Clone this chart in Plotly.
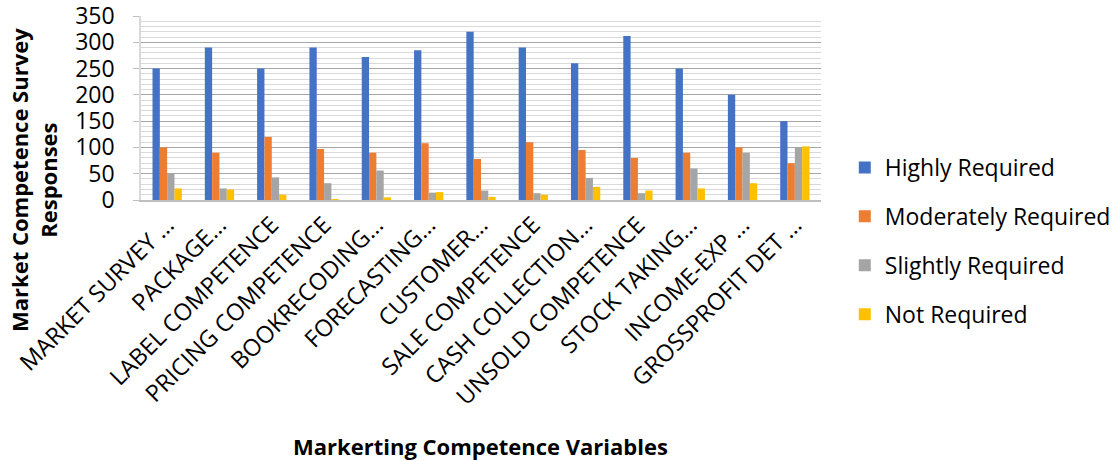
import plotly.graph_objects as go

# Competence variables (x-axis categories)
categories = [
    "MARKET SURVEY …", "PACKAGE…", "LABEL COMPETENCE", "PRICING COMPETENCE",
    "BOOKRECODING…", "FORECASTING…", "CUSTOMER…", "SALE COMPETENCE",
    "CASH COLLECTION…", "UNSOLD COMPETENCE", "STOCK TAKING…", "INCOME-EXP …",
    "GROSSPROFIT DET …",
]

# Survey responses per requirement level
highly_required = [250, 290, 250, 290, 272, 285, 320, 290, 260, 312, 250, 200, 150]
moderately_required = [100, 90, 120, 97, 90, 108, 78, 110, 95, 80, 90, 100, 70]
slightly_required = [50, 22, 43, 32, 56, 14, 18, 13, 42, 13, 60, 90, 100]
not_required = [22, 20, 10, 1, 5, 15, 6, 10, 25, 18, 22, 32, 102]

y_ticks = [0, 50, 100, 150, 200, 250, 300, 350]

series = [
    ("Highly Required", highly_required, "#4472C4"),
    ("Moderately Required", moderately_required, "#ED7D31"),
    ("Slightly Required", slightly_required, "#A5A5A5"),
    ("Not Required", not_required, "#FFC000"),
]

FONT = "Open Sans"
W, H = 1118, 461
L, R, T, B = 141, 297, 16, 261

fig = go.Figure()
for i, (name, vals, color) in enumerate(series):
    fig.add_trace(go.Bar(
        x=categories, y=vals, name=name,
        marker=dict(color=color, line=dict(width=0)),
        legendgroup=f"g{i}",
    ))

plot_w = W - L - R
plot_h = H - T - B

fig.update_layout(
    width=W, height=H,
    margin=dict(l=L, r=R, t=T, b=B, autoexpand=False),
    paper_bgcolor="white", plot_bgcolor="white",
    barmode="group", bargap=0.44, bargroupgap=0,
    font=dict(family=FONT, color="#000000"),
    showlegend=True,
    legend=dict(
        x=1.035, xanchor="left",
        y=(H - B - 146) / plot_h, yanchor="top",
        font=dict(family=FONT, size=23, color="#000000"),
        tracegroupgap=16, itemwidth=30, maxheight=320,
    ),
    xaxis=dict(
        tickangle=-45, tickfont=dict(family=FONT, size=23.5, color="#000000"),
        showline=True, linecolor="#BFBFBF", linewidth=1.5,
        ticks="", showgrid=False,
    ),
    yaxis=dict(
        range=[0, 350], tickmode="array", tickvals=y_ticks,
        tickfont=dict(family=FONT, size=23, color="#000000"),
        ticklabeloverflow="allow",
        showgrid=True, gridcolor="#A6A6A6", gridwidth=1.3,
        minor=dict(tickmode="linear", tick0=0, dtick=10, showgrid=True,
                   gridcolor="#D9D9D9", gridwidth=1.3),
        showline=True, linecolor="#D9D9D9", linewidth=1.5,
        zeroline=False, ticks="outside", ticklen=6, tickcolor="#BFBFBF",
        tickwidth=1.3, ticklabelstandoff=14,
    ),
    annotations=[
        dict(
            text="<b>Market Competence Survey<br>Responses</b>",
            xref="paper", yref="paper",
            x=(33 - L) / plot_w, y=(H - B - 180) / plot_h,
            xanchor="center", yanchor="middle", textangle=-90, showarrow=False,
            font=dict(family=FONT, size=22, color="#000000"),
        ),
        dict(
            text="<b>Markerting Competence Variables</b>",
            xref="paper", yref="paper",
            x=(480 - L) / plot_w, y=-(446 - (H - B)) / plot_h,
            xanchor="center", yanchor="middle", showarrow=False,
            font=dict(family=FONT, size=22, color="#000000"),
        ),
    ],
)

fig.write_html("out.html")
